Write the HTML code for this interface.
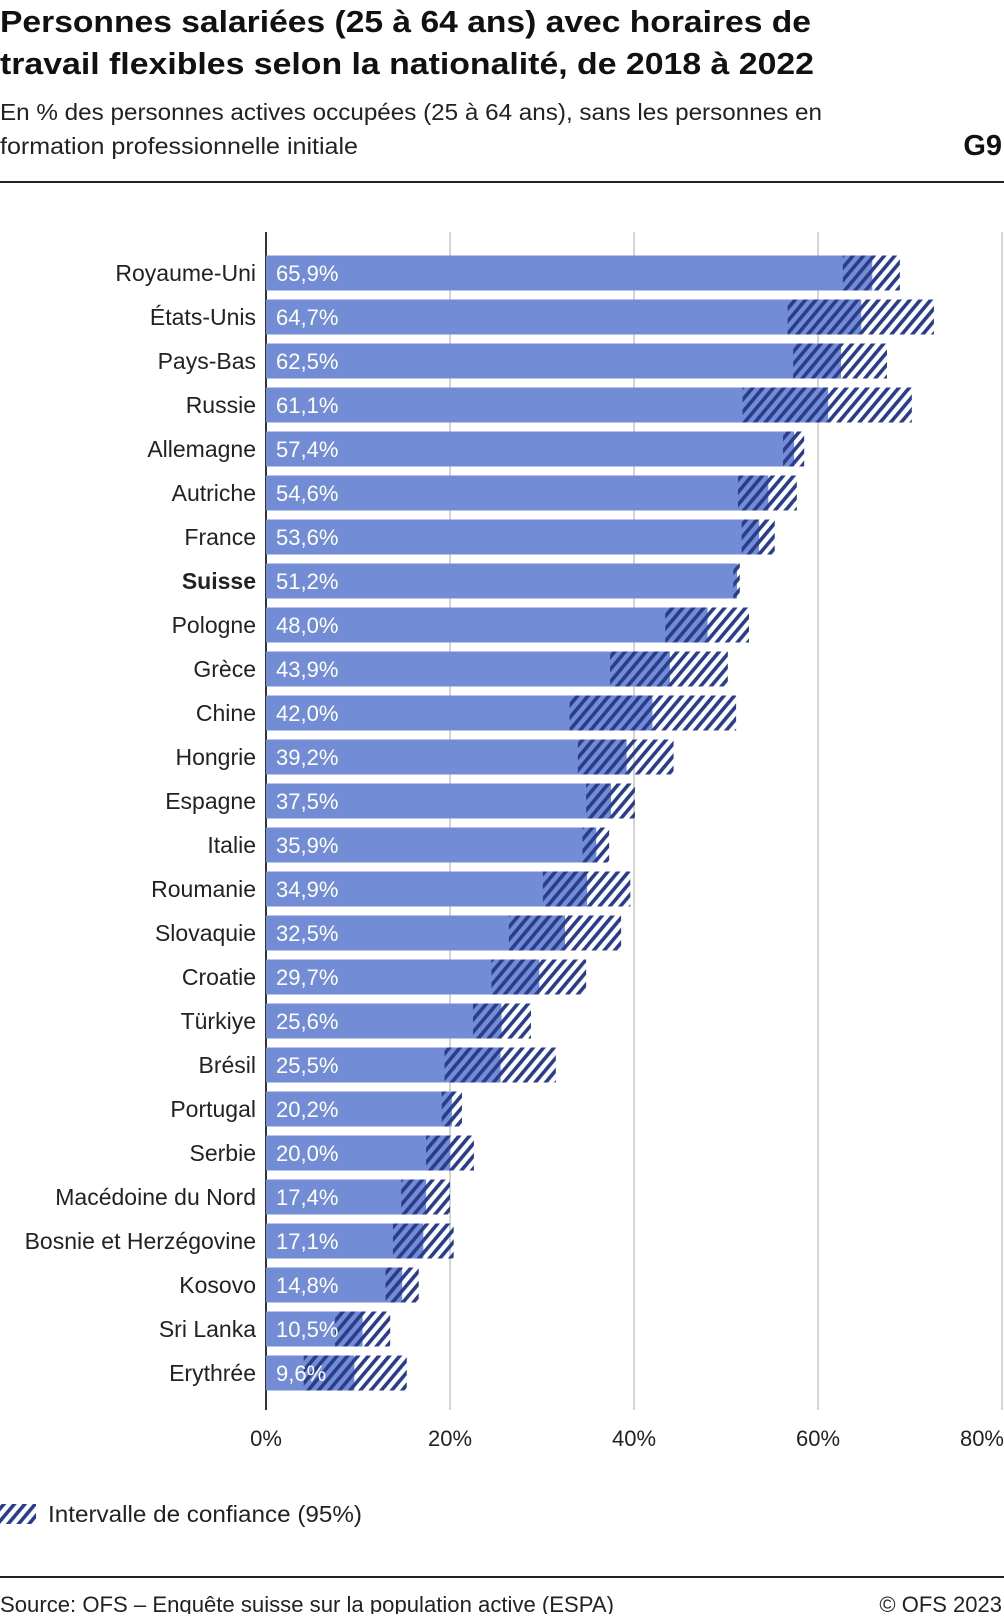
<!DOCTYPE html>
<html><head><meta charset="utf-8"><style>
body{margin:0;background:#fff}
svg text{font-family:"Liberation Sans",sans-serif}
</style></head><body>
<svg id="c" width="1004" height="1614" viewBox="0 0 1004 1614" xmlns="http://www.w3.org/2000/svg">
<defs>
<pattern id="hatch" patternUnits="userSpaceOnUse" width="8" height="8" patternTransform="rotate(40)">
<rect width="3.6" height="8" fill="#2a3d8c"/>
</pattern>
</defs>
<text x="0" y="32" font-size="31" font-weight="bold" fill="#111" textLength="811" lengthAdjust="spacingAndGlyphs">Personnes salariées (25 à 64 ans) avec horaires de</text>
<text x="0" y="74" font-size="31" font-weight="bold" fill="#111" textLength="814" lengthAdjust="spacingAndGlyphs">travail flexibles selon la nationalité, de 2018 à 2022</text>
<text x="0" y="120" font-size="23" fill="#222" textLength="822" lengthAdjust="spacingAndGlyphs">En % des personnes actives occupées (25 à 64 ans), sans les personnes en</text>
<text x="0" y="154" font-size="23" fill="#222" textLength="358" lengthAdjust="spacingAndGlyphs">formation professionnelle initiale</text>
<text x="1002" y="155" font-size="29" font-weight="bold" fill="#111" text-anchor="end">G9</text>
<rect x="0" y="181" width="1004" height="2" fill="#222"/>
<g id="grid"></g><g id="bars"></g><g id="labels"></g>
<g>
<rect x="0" y="1504" width="36" height="20" fill="url(#hatch)"/>
<text x="48" y="1522" font-size="23" fill="#222" textLength="314" lengthAdjust="spacingAndGlyphs">Intervalle de confiance (95%)</text>
</g>
<rect x="0" y="1576" width="1004" height="2" fill="#222"/>
<text x="0" y="1612" font-size="22" fill="#222" textLength="614" lengthAdjust="spacingAndGlyphs">Source: OFS – Enquête suisse sur la population active (ESPA)</text>
<text x="1002" y="1612" font-size="22" fill="#222" text-anchor="end">© OFS 2023</text>
</svg>
<script>
const countries=["Royaume-Uni","États-Unis","Pays-Bas","Russie","Allemagne","Autriche","France","Suisse","Pologne","Grèce","Chine","Hongrie","Espagne","Italie","Roumanie","Slovaquie","Croatie","Türkiye","Brésil","Portugal","Serbie","Macédoine du Nord","Bosnie et Herzégovine","Kosovo","Sri Lanka","Erythrée"];
const values=[65.9,64.7,62.5,61.1,57.4,54.6,53.6,51.2,48.0,43.9,42.0,39.2,37.5,35.9,34.9,32.5,29.7,25.6,25.5,20.2,20.0,17.4,17.1,14.8,10.5,9.6];
const ciLow=[62.7,56.7,57.3,51.8,56.2,51.3,51.7,50.8,43.4,37.4,33.0,33.9,34.8,34.4,30.1,26.4,24.5,22.5,19.4,19.1,17.4,14.7,13.8,13.0,7.5,4.1];
const ciHigh=[68.9,72.6,67.5,70.2,58.5,57.7,55.3,51.5,52.5,50.2,51.1,44.3,40.1,37.3,39.6,38.6,34.8,28.8,31.5,21.3,22.6,20.0,20.4,16.6,13.5,15.3];
const ticks=[0,20,40,60,80];
const tickLabels=["0%","20%","40%","60%","80%"];
const NS="http://www.w3.org/2000/svg";
const X0=266,PX=9.2,Y0=273,STEP=44,BH=35,TOP=232,BOT=1410;
const x=v=>X0+v*PX, y=i=>Y0+i*STEP;
function mk(t,a,p){const e=document.createElementNS(NS,t);for(const k in a)e.setAttribute(k,a[k]);p.appendChild(e);return e;}
const grid=document.getElementById('grid'),bars=document.getElementById('bars'),labels=document.getElementById('labels');
ticks.forEach((t,i)=>{
  if(t>0){const g=mk('rect',{x:x(t)-1,y:TOP,width:2,height:BOT-TOP,fill:'#d4d4d4'},grid);
  
  }
  const tl=mk('text',{x:x(t),y:1446,'font-size':22,fill:'#222','text-anchor':i==4?'end':'middle'},grid);
  if(i==4)tl.setAttribute('x',x(t)+2);
  tl.textContent=tickLabels[i];
  
  
});
countries.forEach((c,i)=>{
  const cy=y(i);
  const b=mk('rect',{x:X0,y:cy-BH/2,width:x(values[i])-X0,height:BH,fill:'#738cd6'},bars);
  
  
  const h=mk('rect',{x:x(ciLow[i]),y:cy-BH/2,width:x(ciHigh[i])-x(ciLow[i]),height:BH,fill:'url(#hatch)'},bars);
  
  
  const l=mk('text',{x:X0-10,y:cy+8,'font-size':23,fill:'#222','text-anchor':'end','font-weight':c=="Suisse"?'bold':'normal'},labels);
  l.textContent=c;
  
  
  const v=mk('text',{x:X0+10,y:cy+8,'font-size':22,fill:'#fff'},labels);
  v.textContent=values[i].toFixed(1).replace('.',',')+'%';
  
  
});
const ax=mk('rect',{x:X0-1,y:TOP,width:2,height:BOT-TOP,fill:'#333'},grid);


</script>
</body></html>
